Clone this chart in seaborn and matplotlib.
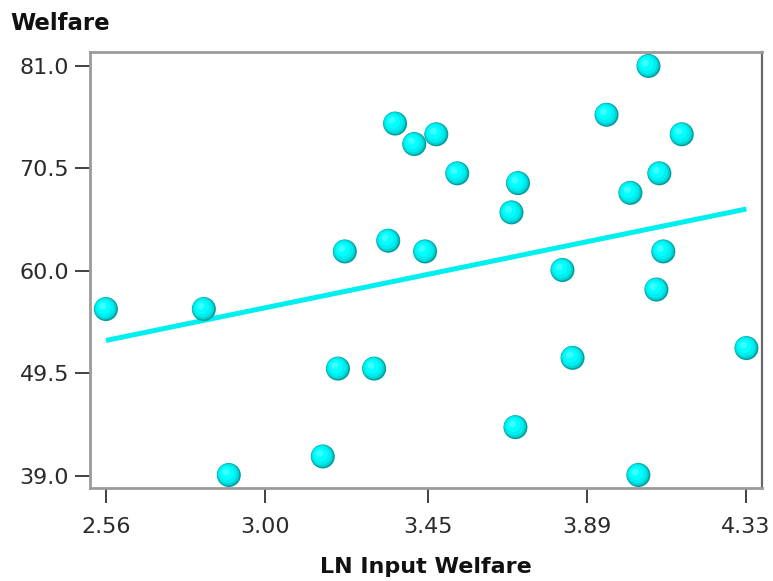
import matplotlib
matplotlib.use("Agg")
import matplotlib.pyplot as plt
import matplotlib.transforms as mtransforms
import seaborn as sns
import pandas as pd

# data
ln_input_welfare = [2.560, 2.831, 2.900, 3.160, 3.221, 3.202, 3.302, 3.341, 3.360,
                    3.413, 3.443, 3.474, 3.532, 3.682, 3.700, 3.693, 3.823, 3.851,
                    3.945, 4.011, 4.033, 4.061, 4.091, 4.083, 4.102, 4.153, 4.332]
welfare = [56.1, 56.1, 39.1, 41.0, 62.0, 50.0, 50.0, 63.1, 75.1,
           73.0, 62.0, 74.0, 70.0, 66.0, 69.0, 44.0, 60.1, 51.1,
           76.0, 68.0, 39.1, 81.0, 70.0, 58.1, 62.0, 74.0, 52.1]
x_ticks = [2.56, 3.00, 3.45, 3.89, 4.33]
x_tick_labels = ["2.56", "3.00", "3.45", "3.89", "4.33"]
y_ticks = [39.0, 49.5, 60.0, 70.5, 81.0]
y_tick_labels = ["39.0", "49.5", "60.0", "70.5", "81.0"]

df = pd.DataFrame({"x": ln_input_welfare, "y": welfare})

sns.set_style("white")
plt.rcParams["font.family"] = ["DejaVu Sans"]

W, H = 773, 581
fig = plt.figure(figsize=(W / 100, H / 100), dpi=100)
ax = fig.add_axes([90 / W, 1 - 488 / H, (762 - 90) / W, (488 - 52) / H])

# regression line
sns.regplot(data=df, x="x", y="y", ax=ax, scatter=False, ci=None, truncate=True,
            line_kws=dict(color="#00f0f0", lw=3.6, solid_capstyle="butt", zorder=2))

# shaded "sphere" markers built from stacked layers
layers = [
    (0, 0, 24, "#00a0a0"),
    (-0.6, 0.6, 22, "#00d4d4"),
    (-1.2, 1.2, 19, "#00eeee"),
    (-2.0, 2.0, 14, "#00ffff"),
    (-3.0, 3.0, 7, "#3cffff"),
]
for dx, dy, d, c in layers:
    tr = mtransforms.offset_copy(ax.transData, fig=fig, x=dx, y=dy, units="dots")
    sns.scatterplot(data=df, x="x", y="y", ax=ax, s=(d * 0.72) ** 2, color=c,
                    edgecolor="none", linewidth=0, transform=tr, zorder=3, legend=False)

ax.set_xlim(2.516, 4.375)
ax.set_ylim(37.77, 82.43)
ax.set_xticks(x_ticks)
ax.set_xticklabels(x_tick_labels)
ax.set_yticks(y_ticks)
ax.set_yticklabels(y_tick_labels)

ax.tick_params(axis="both", bottom=True, left=True, direction="out", length=11,
               width=1.3, color="#333333", labelsize=16, labelcolor="#2a2a2a")
ax.tick_params(axis="x", pad=10)
ax.tick_params(axis="y", pad=4)

for side in ["left", "bottom", "top"]:
    ax.spines[side].set_color("#9a9a9a")
    ax.spines[side].set_linewidth(2)
ax.spines["right"].set_color("#6a6a6a")
ax.spines["right"].set_linewidth(1.6)

ax.set_xlabel("LN Input Welfare", fontsize=16, fontweight="bold", color="#111111", labelpad=14)
ax.set_ylabel("")
fig.text(10 / W, 1 - 30 / H, "Welfare", fontsize=16.5, fontweight="bold",
         color="#111111", ha="left", va="baseline")

fig.savefig("out.png", dpi=100, facecolor="white")
